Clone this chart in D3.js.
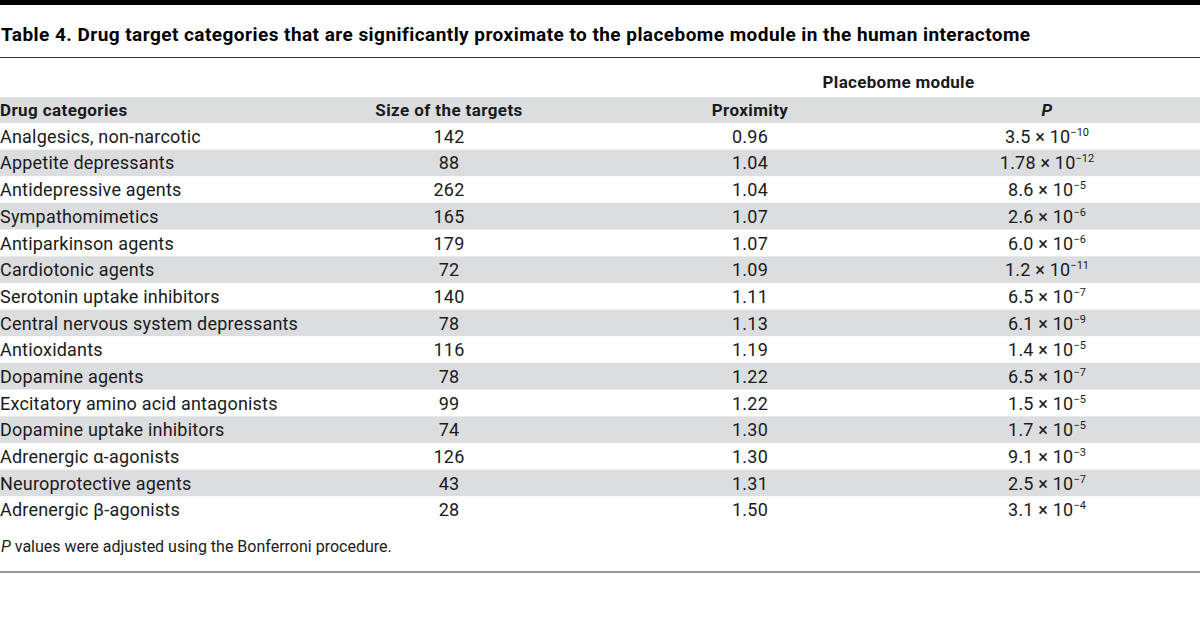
<!DOCTYPE html>
<html>
<head>
<meta charset="utf-8">
<script src="https://cdn.jsdelivr.net/npm/d3@7"></script>
<style>
  body { margin: 0; background: #fff; }
  svg { display: block; font-family: Roboto, "Noto Sans", sans-serif; }
</style>
</head>
<body>
<div id="chart"></div>
<script>
// table values
var categories = [
  "Analgesics, non-narcotic", "Appetite depressants", "Antidepressive agents",
  "Sympathomimetics", "Antiparkinson agents", "Cardiotonic agents",
  "Serotonin uptake inhibitors", "Central nervous system depressants", "Antioxidants",
  "Dopamine agents", "Excitatory amino acid antagonists", "Dopamine uptake inhibitors",
  "Adrenergic \u03b1-agonists", "Neuroprotective agents", "Adrenergic \u03b2-agonists"
];
var targetSizes = [142, 88, 262, 165, 179, 72, 140, 78, 116, 78, 99, 74, 126, 43, 28];
var proximity = ["0.96", "1.04", "1.04", "1.07", "1.07", "1.09", "1.11", "1.13", "1.19", "1.22", "1.22", "1.30", "1.30", "1.31", "1.50"];
var pMantissa = ["3.5", "1.78", "8.6", "2.6", "6.0", "1.2", "6.5", "6.1", "1.4", "6.5", "1.5", "1.7", "9.1", "2.5", "3.1"];
var pExponent = [-10, -12, -5, -6, -6, -11, -7, -9, -5, -7, -5, -5, -3, -7, -4];
var columnKeys = ["category", "size", "proximity", "p"];
var columnHeads = ["Drug categories", "Size of the targets", "Proximity", "P"];

var width = 1200, height = 628;
var stripe = "#dcdddf", ink = "#1a1a1a";

var svg = d3.select("#chart").append("svg")
  .attr("width", width)
  .attr("height", height);

// top black bar + title
svg.append("rect")
  .attr("x", 0).attr("y", 0)
  .attr("width", width).attr("height", 5)
  .style("fill", "#000");

svg.append("text")
  .attr("x", 1).attr("y", 41)
  .style("font-size", "19px")
  .style("font-weight", "bold")
  .style("letter-spacing", "0.45px")
  .style("fill", "#000")
  .text("Table 4. Drug target categories that are significantly proximate to the placebome module in the human interactome");

svg.append("line")
  .attr("x1", 0).attr("x2", width)
  .attr("y1", 57.5).attr("y2", 57.5)
  .style("stroke", "#333")
  .style("stroke-width", 1.2);

// scales
var y = d3.scaleBand()
  .domain(categories)
  .range([123, 123 + 26.67 * categories.length]);

var x = d3.scaleOrdinal()
  .domain(columnKeys)
  .range([0, 449, 750, 1047]);

var anchor = function(k) { return k == "category" ? "start" : "middle"; };

// header
svg.append("text")
  .attr("x", (x("proximity") + x("p")) / 2)
  .attr("y", 88)
  .attr("text-anchor", "middle")
  .style("font-size", "17px")
  .style("font-weight", "bold")
  .style("letter-spacing", "0.3px")
  .style("fill", ink)
  .text("Placebome module");

svg.append("rect")
  .attr("x", 0).attr("y", 97)
  .attr("width", width).attr("height", 26)
  .style("fill", stripe);

svg.selectAll(".head")
  .data(columnKeys)
  .enter().append("text")
  .attr("class", "head")
  .attr("x", function(d) { return x(d); })
  .attr("y", 116)
  .attr("text-anchor", anchor)
  .style("font-size", "17px")
  .style("font-weight", "bold")
  .style("letter-spacing", "0.4px")
  .style("font-style", function(d) { return d == "p" ? "italic" : "normal"; })
  .style("fill", ink)
  .text(function(d, i) { return columnHeads[i]; });

// body rows
var rows = svg.selectAll(".row")
  .data(categories)
  .enter().append("g")
  .attr("class", "row")
  .attr("transform", function(d) { return "translate(0," + y(d) + ")"; });

rows.append("rect")
  .attr("width", width)
  .attr("height", y.bandwidth())
  .style("fill", function(d, i) { return i % 2 ? stripe : "#fff"; });

var base = y.bandwidth() / 2 + 6.5;
var cell = function(r) {
  return r.append("text")
    .attr("y", base)
    .style("font-size", "18px")
    .style("letter-spacing", "0.2px")
    .style("fill", ink);
};

cell(rows).attr("x", x("category")).text(function(d) { return d; });
cell(rows).attr("x", x("size")).attr("text-anchor", "middle")
  .text(function(d, i) { return targetSizes[i]; });
cell(rows).attr("x", x("proximity")).attr("text-anchor", "middle")
  .text(function(d, i) { return proximity[i]; });

var pt = cell(rows).attr("x", x("p")).attr("text-anchor", "middle");
pt.append("tspan").text(function(d, i) { return pMantissa[i] + " \u00d7 10"; });
pt.append("tspan")
  .attr("dy", -7)
  .style("font-size", "11px")
  .style("letter-spacing", "0px")
  .text(function(d, i) { return "\u2212" + Math.abs(pExponent[i]); });

// footnote
var note = svg.append("text")
  .attr("x", 1).attr("y", 552)
  .style("font-size", "16px")
  .style("fill", ink);
note.append("tspan").style("font-style", "italic").text("P");
note.append("tspan").text(" values were adjusted using the Bonferroni procedure.");

svg.append("line")
  .attr("x1", 0).attr("x2", width)
  .attr("y1", 572).attr("y2", 572)
  .style("stroke", "#333")
  .style("stroke-width", 1.2);
</script>
</body>
</html>
